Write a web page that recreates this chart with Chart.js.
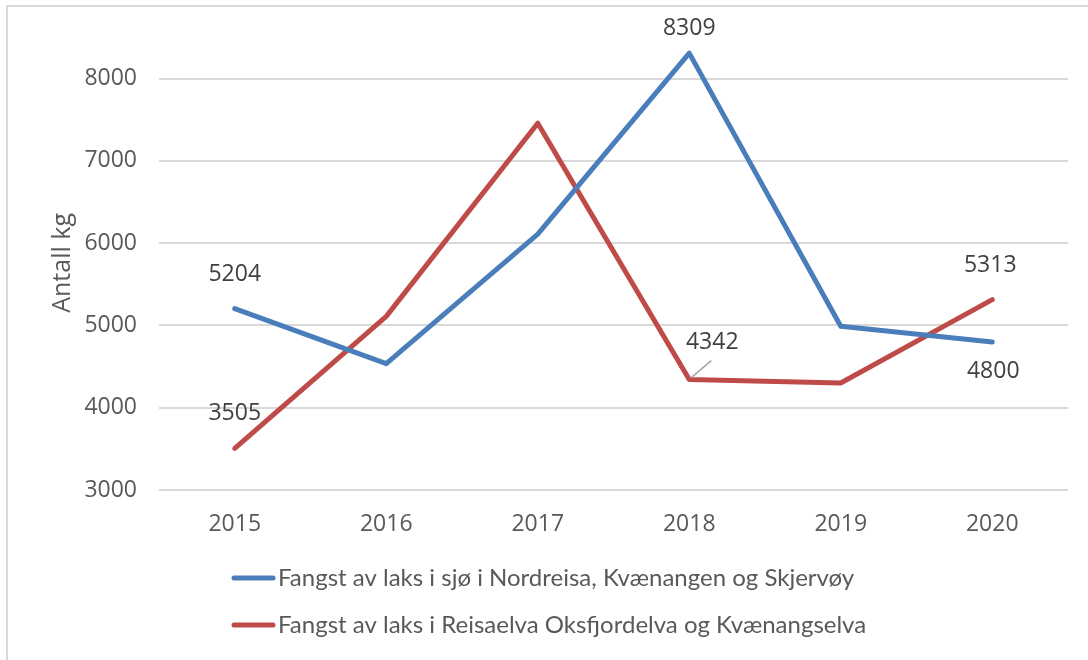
<!DOCTYPE html>
<html>
<head>
<meta charset="utf-8">
<script src="https://cdn.jsdelivr.net/npm/chart.js@4"></script>
<style>
  html, body { margin: 0; padding: 0; background: #fff; }
  #wrap { position: relative; width: 1088px; height: 660px; }
  #frame { position: absolute; left: 6px; top: 5px; right: -4px; bottom: -4px;
           border-top: 2px solid #d9d9d9; border-left: 2px solid #d9d9d9; }
  canvas { position: absolute; left: 0; top: 0; }
</style>
</head>
<body>
<div id="wrap">
  <div id="frame"></div>
  <canvas id="chart" width="1088" height="660"></canvas>
</div>
<script>
const years = ["2015", "2016", "2017", "2018", "2019", "2020"];
const seaCatch = [5204, 4535, 6110, 8309, 4990, 4800];
const riverCatch = [3505, 5110, 7458, 4342, 4300, 5313];
const yTicks = [3000, 4000, 5000, 6000, 7000, 8000];
const seriesNames = [
  "Fangst av laks i sjø i Nordreisa, Kvænangen og Skjervøy",
  "Fangst av laks i Reisaelva Oksfjordelva og Kvænangselva"
];
const yTitle = "Antall kg";

const BLUE = "#4a7ebb";
const RED = "#be4b48";
const TEXT = "#595959";
const LABEL = "#404040";

// which points get a value label, and where it sits relative to the point
const labelSpots = [
  [{ i: 0, dx: 0, dy: -34 }, { i: 3, dx: 0, dy: -25 }, { i: 5, dx: 1, dy: 30 }],
  [{ i: 0, dx: 0, dy: -35 }, { i: 3, dx: 23, dy: -37, leader: true }, { i: 5, dx: -2, dy: -34 }]
];

const valueLabels = {
  id: "valueLabels",
  afterDatasetsDraw(chart) {
    const ctx = chart.ctx;
    ctx.save();
    ctx.font = "23px 'Open Sans'";
    ctx.fillStyle = LABEL;
    ctx.textAlign = "center";
    ctx.textBaseline = "middle";
    chart.data.datasets.forEach((ds, d) => {
      const meta = chart.getDatasetMeta(d);
      labelSpots[d].forEach(s => {
        const pt = meta.data[s.i];
        const x = pt.x + s.dx, y = pt.y + s.dy;
        if (s.leader) {
          ctx.strokeStyle = "#a6a6a6";
          ctx.lineWidth = 1.5;
          ctx.beginPath();
          ctx.moveTo(pt.x + 2, pt.y - 2);
          ctx.lineTo(x - 1, y + 18);
          ctx.stroke();
        }
        ctx.fillText(ds.data[s.i], x, y);
      });
    });
    ctx.restore();
  }
};

const bottomLegend = {
  id: "bottomLegend",
  afterDraw(chart) {
    const ctx = chart.ctx;
    ctx.save();
    ctx.font = "24px Lato";
    ctx.fillStyle = TEXT;
    ctx.textBaseline = "middle";
    ctx.lineCap = "round";
    chart.data.datasets.forEach((ds, d) => {
      const y = 578 + d * 47;
      ctx.strokeStyle = ds.borderColor;
      ctx.lineWidth = 5;
      ctx.beginPath();
      ctx.moveTo(234, y);
      ctx.lineTo(273, y);
      ctx.stroke();
      ctx.fillText(ds.label, 278, y);
    });
    ctx.restore();
  }
};

new Chart(document.getElementById("chart"), {
  type: "line",
  data: {
    labels: years,
    datasets: [
      { label: seriesNames[0], data: seaCatch, borderColor: BLUE, backgroundColor: BLUE },
      { label: seriesNames[1], data: riverCatch, borderColor: RED, backgroundColor: RED }
    ]
  },
  options: {
    responsive: false,
    animation: false,
    layout: { padding: { left: 46, right: 20, top: 19, bottom: 128 } },
    elements: {
      line: { borderWidth: 5, tension: 0, borderJoinStyle: "round", borderCapStyle: "round" },
      point: { radius: 0, hoverRadius: 0 }
    },
    plugins: {
      legend: { display: false },
      tooltip: { enabled: false }
    },
    scales: {
      x: {
        offset: true,
        grid: { display: false },
        border: { display: false },
        ticks: { color: TEXT, font: { family: "Open Sans", size: 23 }, padding: 13 },
        afterFit(axis) { axis.height = 42; }
      },
      y: {
        min: 3000,
        max: 8520,
        grid: { color: "#d9d9d9", lineWidth: 2, drawTicks: false },
        border: { display: false },
        afterBuildTicks(axis) { axis.ticks = yTicks.map(v => ({ value: v })); },
        ticks: {
          color: TEXT,
          font: { family: "Open Sans", size: 23 },
          padding: 22,
          callback: v => String(v)
        },
        title: {
          display: true,
          text: yTitle,
          color: TEXT,
          font: { family: "Open Sans", size: 25 },
          padding: { top: 2, bottom: 4 }
        },
        afterFit(axis) { axis.width = 113; }
      }
    }
  },
  plugins: [valueLabels, bottomLegend]
});
</script>
</body>
</html>
